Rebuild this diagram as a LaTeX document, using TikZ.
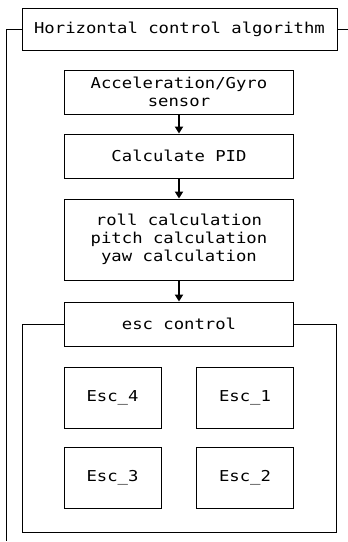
\documentclass[tikz,border=0pt]{standalone}
\usepackage{fontspec}
\newfontfamily\monof[FakeStretch=1.15]{DejaVu Sans Mono}
\usetikzlibrary{arrows.meta}
\begin{document}
\begin{tikzpicture}[x=1pt,y=-1pt,
  box/.style={draw=black,line width=0.9pt,fill=white,inner sep=0pt,align=center,
    font=\monof\fontsize{15}{18}\selectfont},
  frame/.style={draw=black,line width=0.9pt},
  flow/.style={draw=black,line width=2pt,-{Triangle[length=7pt,width=8pt]}}]
\useasboundingbox (0,0) rectangle (348,542);
% outer frame lines
\coordinate (tl) at (6,29);
\coordinate (bl) at (6,541);
\coordinate (tr) at (348,29);
% esc frame
\draw[frame] (22,324) rectangle (336,532);
\node[box,minimum width=315pt,minimum height=42pt] (top) at (179.5,29) {Horizontal control algorithm};
\draw[frame] (top.west) -- (tl) -- (bl);
\draw[frame] (top.east) -- (tr);
\node[box,minimum width=229pt,minimum height=44pt] (acc) at (179,92) {Acceleration/Gyro\\sensor};
\node[box,minimum width=229pt,minimum height=44pt] (pid) at (179,156) {Calculate PID};
\node[box,minimum width=229pt,minimum height=81pt] (rpy) at (179,239.5) {roll calculation\\pitch calculation\\yaw calculation};
\node[box,minimum width=229pt,minimum height=44pt] (esc) at (179,324) {esc control};
\draw[flow] (acc.south) -- (pid.north);
\draw[flow] (pid.south) -- (rpy.north);
\draw[flow] (rpy.south) -- (esc.north);
\node[box,minimum width=97pt,minimum height=61pt] (e4) at (112.5,397.5) {Esc\_4};
\node[box,minimum width=97pt,minimum height=61pt] (e1) at (245,397.5) {Esc\_1};
\node[box,minimum width=97pt,minimum height=61pt] (e3) at (112.5,478) {Esc\_3};
\node[box,minimum width=97pt,minimum height=61pt] (e2) at (245,478) {Esc\_2};
\end{tikzpicture}
\end{document}
